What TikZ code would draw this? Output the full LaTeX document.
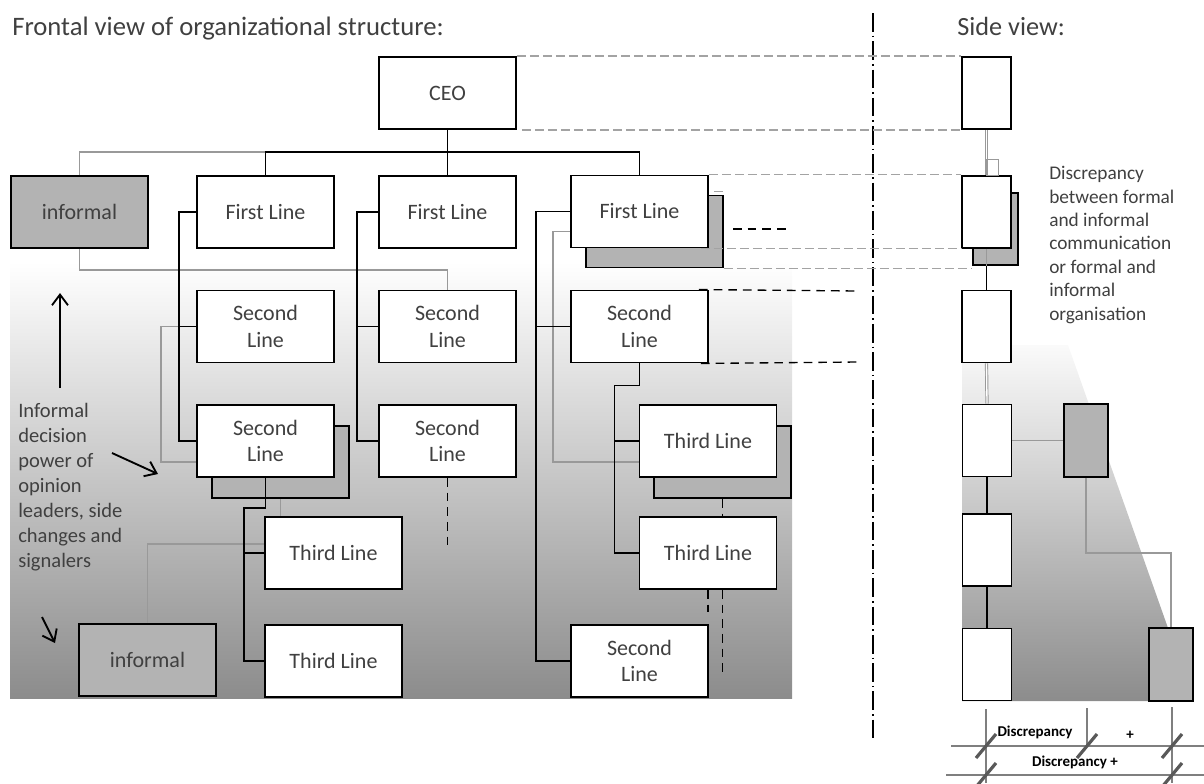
\documentclass[tikz,border=0pt]{standalone}
\usepackage{fontspec}
\setmainfont{Carlito}
\usetikzlibrary{arrows.meta,calc}
\definecolor{txt}{HTML}{404040}
\definecolor{infill}{HTML}{B3B3B3}
\definecolor{infline}{HTML}{999999}
\definecolor{guidecol}{HTML}{A3A3A3}
\definecolor{shadeend}{HTML}{8C8C8C}
\definecolor{scalecol}{HTML}{7F7F7F}
\definecolor{slashcol}{HTML}{595959}
\begin{document}
\begin{tikzpicture}[x=0.75pt,y=-0.75pt,
  orgbox/.style={draw=black, line width=1.4pt, fill=white, text=txt,
    font=\fontsize{16.5}{20}\selectfont, align=center, inner sep=0pt,
    minimum width=102.75pt, minimum height=54pt},
  infbox/.style={orgbox, fill=infill},
  shadowbox/.style={draw=black, line width=1.4pt, fill=infill, inner sep=0pt,
    minimum width=102.75pt, minimum height=54pt},
  sidebox/.style={draw=black, line width=1.4pt, fill=white, inner sep=0pt,
    minimum width=36.75pt, minimum height=54pt},
  sideinf/.style={draw=black, line width=1.4pt, fill=infill, inner sep=0pt,
    minimum width=33pt, minimum height=54.75pt},
  sideshadow/.style={draw=black, line width=1.4pt, fill=infill, inner sep=0pt,
    minimum width=33.75pt, minimum height=54pt},
  formal/.style={draw=black, line width=1.3pt},
  informal/.style={draw=infline, line width=1.1pt},
  twin/.style={draw=infline, line width=0.7pt, double=white, double distance=1pt},
  guide/.style={draw=guidecol, line width=1.1pt, dash pattern=on 6.75pt off 3pt},
  blackdash/.style={draw=black, line width=1pt, dash pattern=on 6.5pt off 4.5pt},
  divider/.style={draw=black, line width=1.2pt, dash pattern=on 14pt off 3pt on 1.2pt off 3pt},
  pointer/.style={draw=black, line width=1.4pt, -{Straight Barb[length=8pt,width=12pt,line width=1.4pt]}},
  scaleline/.style={draw=scalecol, line width=1.1pt},
  slash/.style={draw=slashcol, line width=2.4pt},
  note/.style={text=txt, align=left, inner sep=0pt, anchor=north west},
  scalelabel/.style={font=\fontsize{11.25}{13}\bfseries\selectfont, inner sep=0pt}
]
\useasboundingbox (0,0) rectangle (1204,783);

% shaded backgrounds
\shade[top color=white, bottom color=shadeend] (10,262) rectangle (792,698);
\begin{scope}
  \clip (962,345) -- (1068,345) -- (1168,628) -- (1168,701) -- (962,701) -- cycle;
  \shade[top color=white, bottom color=shadeend] (962,330) rectangle (1204,701);
\end{scope}

% headings
\node[text=txt, font=\fontsize{20}{24}\selectfont, inner sep=0pt, anchor=base west] (title) at (12,35) {Frontal view of organizational structure:};
\node[text=txt, font=\fontsize{19.7}{24}\selectfont, inner sep=0pt, anchor=base west] (sidetitle) at (957,35) {Side view:};

% divider between the two views
\coordinate (divtop) at (873,13);
\coordinate (divbot) at (873,740);
\draw[divider] (divtop) -- (divbot);

% shadows of the overlapping units
\node[shadowbox] (fl3s) at (654.5,231.5) {};
\node[shadowbox] (sl4s) at (280.5,462) {};
\node[shadowbox] (tl1s) at (722.5,462) {};

% frontal view units
\node[orgbox] (ceo) at (447.5,93) {CEO};
\node[infbox] (inf1) at (79.5,212) {informal};
\node[orgbox] (fl1) at (265.5,212) {First Line};
\node[orgbox] (fl2) at (447.5,212) {First Line};
\node[orgbox] (fl3) at (639.5,211.5) {First Line};
\node[orgbox] (sl1) at (265.5,326.5) {Second\\Line};
\node[orgbox] (sl2) at (447.5,326.5) {Second\\Line};
\node[orgbox] (sl3) at (639.5,326.5) {Second\\Line};
\node[orgbox] (sl4) at (265.5,441) {Second\\Line};
\node[orgbox] (sl5) at (447.5,441) {Second\\Line};
\node[orgbox] (tl1) at (708,441) {Third Line};
\node[orgbox] (tl2) at (708,553) {Third Line};
\node[orgbox] (sl6) at (639.5,661) {Second\\Line};
\node[orgbox] (tl3) at (333.5,553) {Third Line};
\node[orgbox] (tl4) at (333.5,661) {Third Line};
\node[infbox] (inf2) at (147.5,660) {informal};

% informal links
\coordinate (bar) at (447.5,152);
\draw[informal] (inf1.north) |- (fl1.north |- bar);
\draw[informal] (inf1.south) -- ++(0,21) -| (sl2.north);
\draw[informal] (sl1.west) -- ++(-35,0) |- ($(sl4.west)+(0,21)$);
\draw[informal] (sl4s.south) -- (sl4s.south |- tl3.north);
\draw[informal] (inf2.north) |- ($(tl3.west)+(0,-9)$);
\draw[informal] ($(fl3.west)+(0,20)$) -- ++(-17,0) |- ($(tl1.west)+(0,21)$);

% formal reporting lines
\draw[formal] (ceo.south) -- (fl2.north);
\draw[formal] (fl1.north) |- (bar) -| (fl3.north);
\draw[formal] (fl1.west) -- ++(-17,0) |- (sl4.west);
\draw[formal] (sl1.west) -- ++(-17,0);
\draw[formal] (fl2.west) -- ++(-21,0) |- (sl5.west);
\draw[formal] (sl2.west) -- ++(-21,0);
\draw[formal] (fl3.west) -- ++(-34,0) |- (sl6.west);
\draw[formal] (sl3.west) -- ++(-34,0);
\draw[formal] (sl3.south) |- ++(-25,22) |- (tl2.west);
\draw[formal] (tl1.west) -- ++(-25,0);
\draw[formal] (sl4.south) |- ++(-21.5,30) |- (tl4.west);
\draw[formal] (tl3.west) -- ++(-21,0);

% continuation hints
\draw[blackdash] (tl1s.south) -- (tl1s.south |- tl2.north);
\draw[blackdash] (tl2.south) -- ++(0,22);
\draw[blackdash] (tl1s.south |- tl2.south) -- ++(0,84);
\draw[blackdash] (sl5.south) -- ++(0,73);
\coordinate (hintA) at (733,229);
\coordinate (hintB) at (791,229);
\draw[blackdash] (hintA) -- (hintB);

% side view units
\node[sidebox] (sb1) at (986.5,93) {};
\node[sideshadow] (sb2s) at (995.5,229) {};
\node[sidebox] (sb2) at (986.5,212) {};
\node[sidebox] (sb3) at (986.5,326.5) {};
\node[sidebox] (sb4) at (987,440.5) {};
\node[sidebox] (sb5) at (987,550) {};
\node[sidebox] (sb6) at (987,664.5) {};
\node[sideinf] (sga) at (1086,440.5) {};
\node[sideinf] (sgb) at (1171,664.5) {};

% side view links
\draw[twin] (sb1.south) -- (sb2.north);
\draw[informal, line width=0.8pt] ($(sb2.north)+(0,-16)$) rectangle ($(sb2.north)+(12,0)$);
\draw[informal] (sb2.south) -- (sb2.south |- sb2s.south);
\draw[formal] (sb2.south |- sb2s.south) -- (sb3.north);
\draw[twin] (sb3.south) -- (sb4.north);
\draw[formal] (sb4.south) -- (sb5.north);
\draw[formal] (sb5.south) -- (sb6.north);
\draw[informal] (sb4.east) -- (sga.west);
\draw[informal] (sga.south) -- ++(0,75) -| (sgb.north);

% projection guides from the frontal view to the side view
\draw[guide] (ceo.north east) -- (sb1.north west);
\draw[guide] ($(ceo.south east)+(5,0)$) -- (sb1.south west);
\draw[guide] (fl3.north east) -- (fl3.north east -| sb2.west);
\draw[guide] ($(fl3s.north east)+(-10,-3)$) -- ($(fl3s.north east)+(0,-3)$ -| sb2.west);
\draw[guide] ($(fl3.south east)+(-8,0)$) -- (fl3.south east -| sb2.west);
\draw[guide] (fl3s.south east) -- (fl3s.south east -| sb2s.west);
\coordinate (hintC) at (858,291);
\coordinate (hintD) at (858,362);
\draw[blackdash] ($(sl3.north east)+(-10,0)$) -- (hintC);
\draw[blackdash] ($(sl3.south east)+(-8,0)$) -- (hintD);

% explanatory notes
\node[note, font=\fontsize{15.4}{18.75}\selectfont] (leftnote) at (18,403)
  {Informal\\decision\\power of\\opinion\\leaders, side\\changes and\\signalers};
\node[note, font=\fontsize{14.5}{17.6}\selectfont] (rightnote) at (1049,166)
  {Discrepancy\\between formal\\and informal\\communication\\or formal and\\informal\\organisation};

% pointers
\coordinate (up0) at (60,388);
\coordinate (up1) at (60,293);
\coordinate (pw0) at (112,453);
\coordinate (pw1) at (158,474);
\coordinate (sm0) at (42,617);
\coordinate (sm1) at (55,643);
\draw[pointer] (up0) -- (up1);
\draw[pointer] (pw0) -- (pw1);
\draw[pointer] (sm0) -- (sm1);

% discrepancy scale
\coordinate (v1t) at (986,709);  \coordinate (v1b) at (986,783);
\coordinate (v2t) at (1087,708); \coordinate (v2b) at (1087,747);
\coordinate (v3t) at (1172,707); \coordinate (v3b) at (1172,783);
\coordinate (h1l) at (951,746);  \coordinate (h1r) at (1204,746);
\coordinate (h2l) at (946,775);  \coordinate (h2r) at (1204,775);
\draw[scaleline] (v1t) -- (v1b);
\draw[scaleline] (v2t) -- (v2b);
\draw[scaleline] (v3t) -- (v3b);
\draw[scaleline] (h1l) -- (h1r);
\draw[scaleline] (h2l) -- (h2r);
\foreach \p in {(986,746),(1087,746),(1172,746),(986,775),(1172,775)}
  \draw[slash] \p ++(-10,12) -- ++(20,-24);
\node[scalelabel] (lab1) at (1035,732) {Discrepancy};
\node[scalelabel] (lab2) at (1130,735) {+};
\node[scalelabel] (lab3) at (1075,762) {Discrepancy +};
\end{tikzpicture}
\end{document}
